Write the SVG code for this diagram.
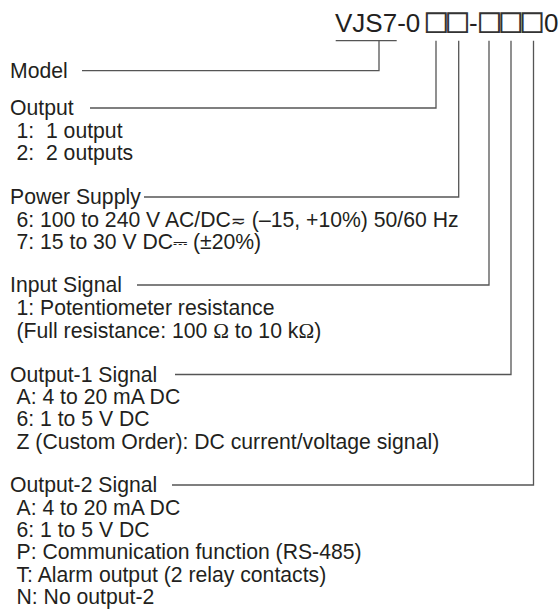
<svg xmlns="http://www.w3.org/2000/svg" width="560" height="614" viewBox="0 0 560 614">
<style>
text{font-family:"Liberation Sans",Arial,"DejaVu Sans",sans-serif;font-size:21.2px;fill:#231f20}
.code{font-size:26px}
.box{font-family:"DejaVu Sans Mono","Liberation Mono",monospace;font-size:35px;fill:#333}
.conn{fill:none;stroke:#555;stroke-width:1.3}
.om{font-family:"Liberation Serif","Times New Roman",serif}
.sym{font-family:"DejaVu Sans",sans-serif;font-size:18px}
</style>
<rect width="560" height="614" fill="#fff"/>
<g id="model-code">
<text class="code" x="335" y="32">VJS7-0<tspan class="box" x="425.8">□</tspan><tspan class="box" x="447">□</tspan><tspan x="469">-</tspan><tspan class="box" x="479">□</tspan><tspan class="box" x="500.3">□</tspan><tspan class="box" x="521.6">□</tspan><tspan x="544">0</tspan></text>
</g>
<g id="connectors">
<path class="conn" d="M335.7 40.7H396.7M379 40.7V70.7H82"/>
<path class="conn" d="M436 40.7V108H90"/>
<path class="conn" d="M458.7 40.7V197H144"/>
<path class="conn" d="M489 40.7V285H137"/>
<path class="conn" d="M511 40.7V374.5H175"/>
<path class="conn" d="M533.5 40.7V485H172"/>
</g>
<g id="model"><text x="10" y="78">Model</text></g>
<g id="output">
<text x="10" y="115.3">Output</text>
<text x="16.5" y="137.6" xml:space="preserve">1:  1 output</text>
<text x="16.5" y="159.9" xml:space="preserve">2:  2 outputs</text>
</g>
<g id="power-supply">
<text x="10" y="204.3">Power Supply</text>
<text x="16.5" y="226.6">6: 100 to 240 V AC/DC<tspan class="sym">≂</tspan> (–15, +10%) 50/60 Hz</text>
<text x="16.5" y="248.9">7: 15 to 30 V DC<tspan class="sym">⎓</tspan> (±20%)</text>
</g>
<g id="input-signal">
<text x="10" y="292.3">Input Signal</text>
<text x="16.5" y="314.6">1: Potentiometer resistance</text>
<text x="16.5" y="337.5">(Full resistance: 100 <tspan class="om">Ω</tspan> to 10 k<tspan class="om">Ω</tspan>)</text>
</g>
<g id="output-1-signal">
<text x="10" y="381.8">Output-1 Signal</text>
<text x="16.5" y="404.1">A: 4 to 20 mA DC</text>
<text x="16.5" y="426.4">6: 1 to 5 V DC</text>
<text x="16.5" y="449">Z (Custom Order): DC current/voltage signal)</text>
</g>
<g id="output-2-signal">
<text x="10" y="492.3">Output-2 Signal</text>
<text x="16.5" y="514.6">A: 4 to 20 mA DC</text>
<text x="16.5" y="536.9">6: 1 to 5 V DC</text>
<text x="16.5" y="559.2">P: Communication function (RS-485)</text>
<text x="16.5" y="581.5">T: Alarm output (2 relay contacts)</text>
<text x="16.5" y="603.8">N: No output-2</text>
</g>
</svg>
